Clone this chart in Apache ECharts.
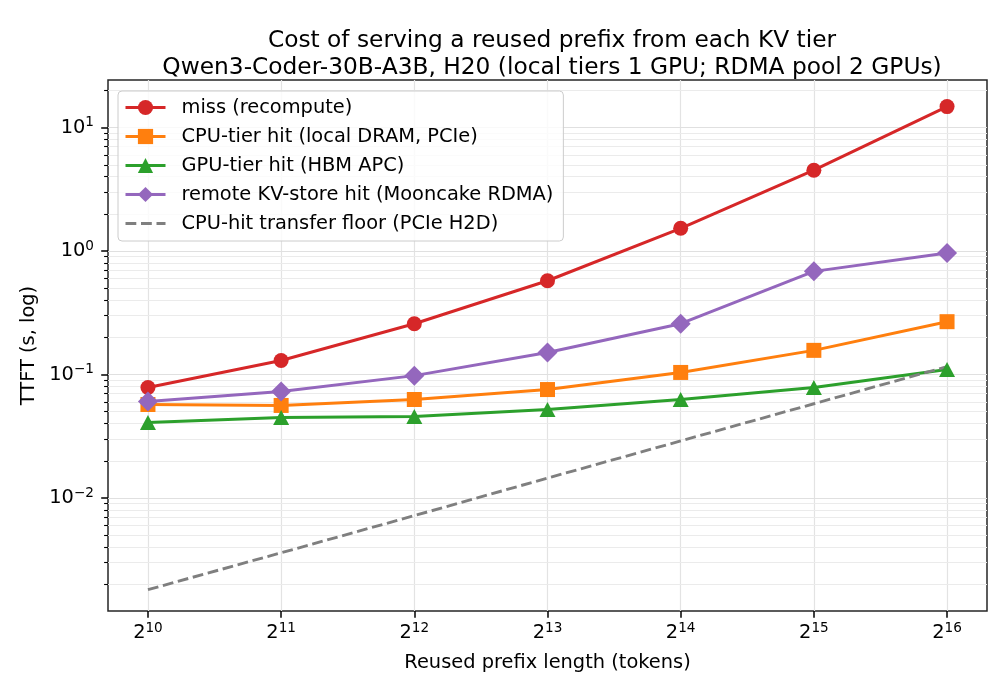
<!DOCTYPE html>
<html>
<head>
<meta charset="utf-8">
<script src="https://cdn.jsdelivr.net/npm/echarts@6/dist/echarts.min.js"></script>
<style>
  html, body { margin: 0; padding: 0; background: #fff; }
  #main { width: 1008px; height: 700px; }
</style>
</head>
<body>
<div id="main"></div>
<script>
// prefix length = 2^exp tokens
var prefixExp = [10, 11, 12, 13, 14, 15, 16];
var missTTFT = [0.0785, 0.130, 0.258, 0.575, 1.53, 4.52, 14.8];
var cpuHitTTFT = [0.0572, 0.0562, 0.0628, 0.0756, 0.104, 0.157, 0.268];
var gpuHitTTFT = [0.0409, 0.0449, 0.0457, 0.0521, 0.0628, 0.0785, 0.110];
var remoteHitTTFT = [0.0605, 0.0729, 0.098, 0.151, 0.258, 0.685, 0.964];
var transferFloor = [0.00181, 0.0036, 0.0072, 0.0145, 0.029, 0.058, 0.116];

var yMajorTicks = [0.01, 0.1, 1, 10];
var yMinorTicks = [0.002, 0.003, 0.004, 0.005, 0.006, 0.007, 0.008, 0.009,
  0.02, 0.03, 0.04, 0.05, 0.06, 0.07, 0.08, 0.09,
  0.2, 0.3, 0.4, 0.5, 0.6, 0.7, 0.8, 0.9,
  2, 3, 4, 5, 6, 7, 8, 9, 20];
var yMin = 0.001216, yMax = 24.3;

var font = 'DejaVu Sans';
var supRich = {
  b: { fontSize: 19.4, fontFamily: font, color: '#000', lineHeight: 24 },
  s: { fontSize: 13.6, fontFamily: font, color: '#000', lineHeight: 14, verticalAlign: 'top' }
};

function pairs(ys) {
  return prefixExp.map(function (e, i) { return [e, ys[i]]; });
}

var myChart = echarts.init(document.getElementById('main'));

var option = {
  animation: false,
  title: {
    text: 'Cost of serving a reused prefix from each KV tier\nQwen3-Coder-30B-A3B, H20 (local tiers 1 GPU; RDMA pool 2 GPUs)',
    left: 547,
    top: 22,
    textAlign: 'center',
    textStyle: { fontFamily: font, fontSize: 23.3, fontWeight: 'normal', color: '#000', lineHeight: 27 }
  },
  grid: {
    left: 108, right: 21, top: 80, bottom: 89,
    show: true, borderColor: '#262626', borderWidth: 1.5, backgroundColor: 'transparent'
  },
  legend: {
    orient: 'vertical',
    left: 118, top: 91,
    padding: [7, 10, 8, 6],
    itemWidth: 40, itemHeight: 19, itemGap: 10,
    lineStyle: { width: 3 },
    backgroundColor: 'rgba(255,255,255,0.8)',
    borderColor: '#cccccc', borderWidth: 1, borderRadius: 4,
    textStyle: { fontFamily: font, fontSize: 19.4, color: '#000', lineHeight: 15, padding: [0, 0, 0, 11] },
    data: ['miss (recompute)', 'CPU-tier hit (local DRAM, PCIe)', 'GPU-tier hit (HBM APC)',
      'remote KV-store hit (Mooncake RDMA)',
      { name: 'CPU-hit transfer floor (PCIe H2D)', itemStyle: { opacity: 0 } }]
  },
  xAxis: {
    type: 'value',
    min: 9.7, max: 16.3,
    name: 'Reused prefix length (tokens)',
    nameLocation: 'middle', nameGap: 42,
    nameTextStyle: { fontFamily: font, fontSize: 19.4, color: '#000' },
    axisLine: { show: false },
    axisTick: { show: true, length: 6.8, lineStyle: { color: '#000', width: 1.5 }, customValues: prefixExp },
    axisLabel: {
      customValues: prefixExp, margin: 10,
      formatter: function (v) { return '{b|2}{s|' + v + '}'; },
      rich: supRich
    },
    splitLine: { show: true, lineStyle: { color: '#e3e3e3', width: 1.2 } }
  },
  yAxis: [{
    type: 'log', logBase: 10,
    min: yMin, max: yMax,
    name: 'TTFT (s, log)',
    nameLocation: 'middle', nameGap: 67,
    nameTextStyle: { fontFamily: font, fontSize: 19.4, color: '#000' },
    axisLine: { show: false },
    axisTick: { show: true, length: 6.8, lineStyle: { color: '#000', width: 1.5 }, customValues: yMajorTicks },
    axisLabel: {
      customValues: yMajorTicks, margin: 14,
      formatter: function (v) {
        var e = Math.round(Math.log10(v));
        return '{b|10}{s|' + (e < 0 ? '\u2212' + (-e) : e) + '}';
      },
      rich: supRich
    },
    splitLine: { show: true, lineStyle: { color: '#e0e0e0', width: 1.2 } },
    z: 3
  }, {
    type: 'log', logBase: 10,
    min: yMin, max: yMax,
    position: 'left',
    axisLine: { show: false },
    axisTick: { show: true, length: 3.9, lineStyle: { color: '#000', width: 1.1 }, customValues: yMinorTicks },
    axisLabel: { show: false },
    splitLine: { show: true, lineStyle: { color: '#ebebeb', width: 1 } },
    z: 2
  }],
  series: [{
    name: 'miss (recompute)', type: 'line', data: pairs(missTTFT),
    symbol: 'circle', symbolSize: 15,
    itemStyle: { color: '#d62728' }, lineStyle: { color: '#d62728', width: 3 }
  }, {
    name: 'CPU-tier hit (local DRAM, PCIe)', type: 'line', data: pairs(cpuHitTTFT),
    symbol: 'rect', symbolSize: 15,
    itemStyle: { color: '#ff7f0e' }, lineStyle: { color: '#ff7f0e', width: 3 }
  }, {
    name: 'GPU-tier hit (HBM APC)', type: 'line', data: pairs(gpuHitTTFT),
    symbol: 'triangle', symbolSize: [16, 15],
    itemStyle: { color: '#2ca02c' }, lineStyle: { color: '#2ca02c', width: 3 }
  }, {
    name: 'remote KV-store hit (Mooncake RDMA)', type: 'line', data: pairs(remoteHitTTFT),
    symbol: 'diamond', symbolSize: 20,
    itemStyle: { color: '#9467bd' }, lineStyle: { color: '#9467bd', width: 3 }
  }, {
    name: 'CPU-hit transfer floor (PCIe H2D)', type: 'line', data: pairs(transferFloor),
    symbol: 'none',
    itemStyle: { color: '#7f7f7f' }, lineStyle: { color: '#7f7f7f', width: 2.9, type: [10.8, 4.7] }
  }]
};

myChart.setOption(option);
</script>
</body>
</html>
